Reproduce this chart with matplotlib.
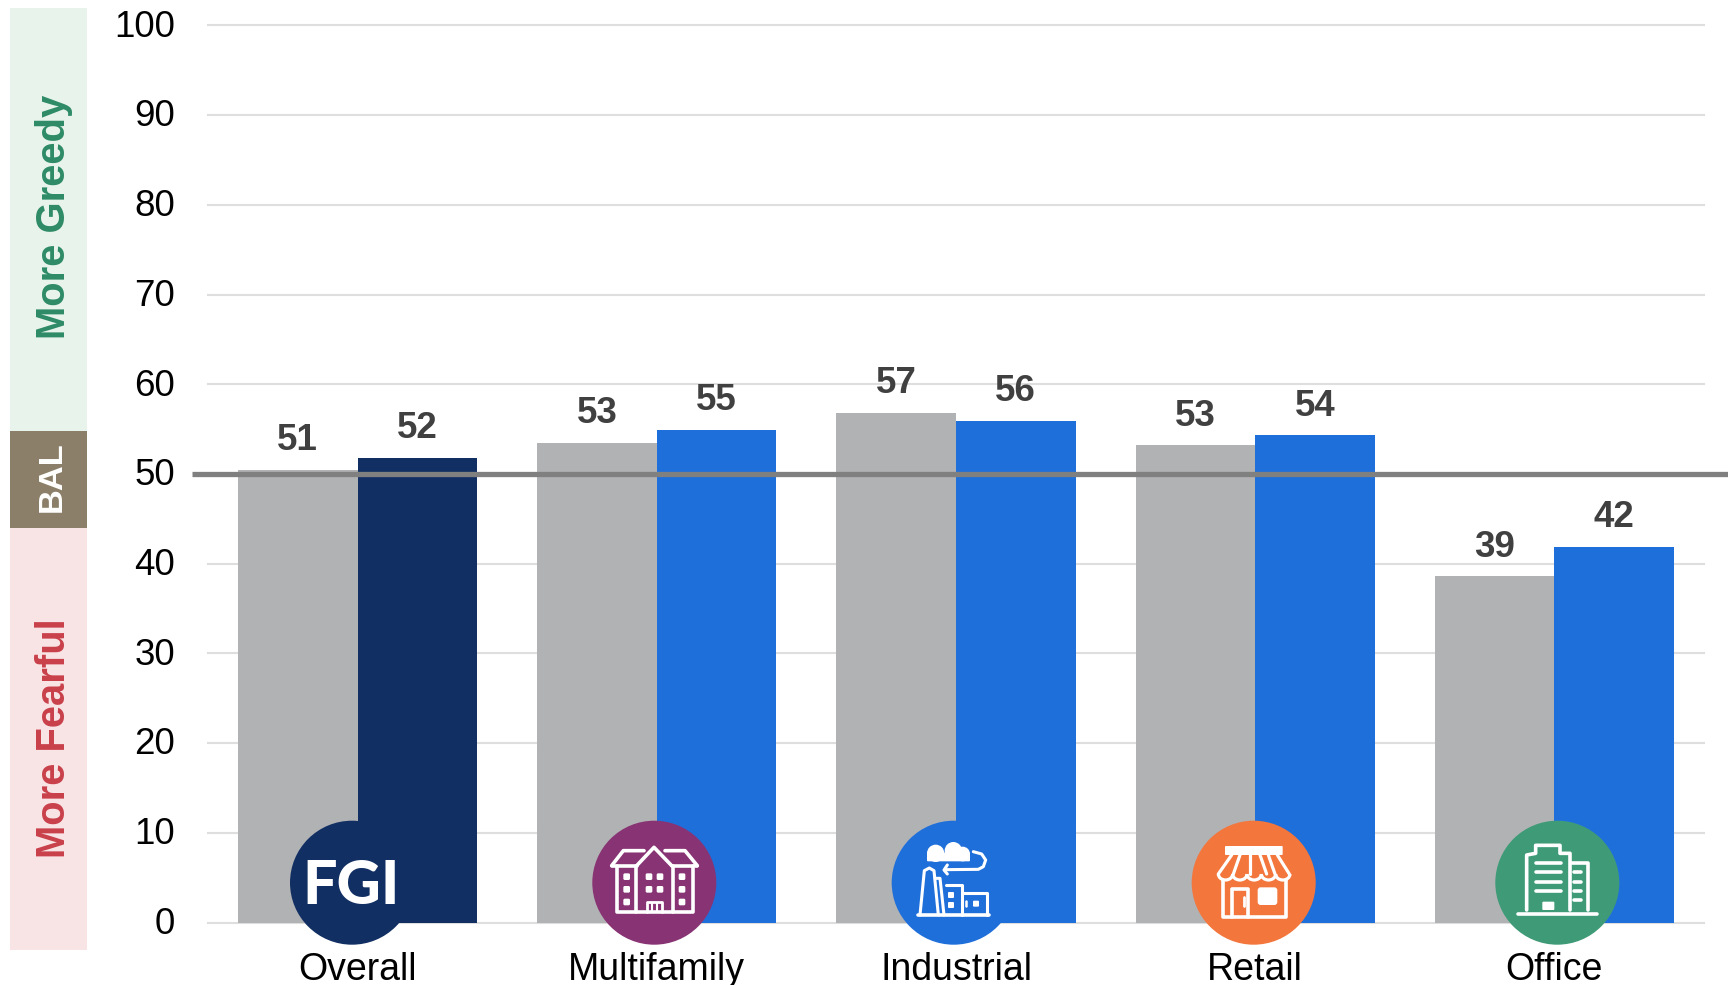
import matplotlib
matplotlib.use("Agg")
import matplotlib.pyplot as plt
from matplotlib.patches import Circle, Rectangle, FancyBboxPatch, Arc, Ellipse
from matplotlib.transforms import ScaledTranslation

plt.rcParams['font.family'] = ['Liberation Sans', 'DejaVu Sans']

categories = ["Overall", "Multifamily", "Industrial", "Retail", "Office"]
prior_values = [50.5, 53.5, 56.8, 53.2, 38.6]
current_values = [51.8, 54.9, 55.9, 54.3, 41.9]
prior_labels = ["51", "53", "57", "53", "39"]
current_labels = ["52", "55", "56", "54", "42"]
current_colors = ["#122F63", "#1F6FDB", "#1F6FDB", "#1F6FDB", "#1F6FDB"]
y_ticks = [0, 10, 20, 30, 40, 50, 60, 70, 80, 90, 100]
balance_level = 50

W, H = 1728, 985
fig = plt.figure(figsize=(W / 100, H / 100), dpi=100, facecolor="white")
ax = fig.add_axes([208 / W, 1 - 922.5 / H, 1496 / W, 897 / H])
ax.set_xlim(0, len(categories))
ax.set_ylim(0, 100)
for s in ax.spines.values():
    s.set_visible(False)
ax.set_yticks(y_ticks)
ax.tick_params(axis="y", length=0, pad=23.8, labelsize=26.5, labelcolor="black")
ax.set_xticks([i + 0.5 for i in range(len(categories))])
ax.set_xticklabels(categories)
ax.tick_params(axis="x", length=0, pad=21, labelsize=27, labelcolor="black")
ax.grid(axis="y", color="#DEDEDE", lw=1.5, zorder=1)
ax.grid(axis="x", visible=False)
ax.set_axisbelow(True)
for ytick in ax.yaxis.get_gridlines():
    ytick.set_clip_on(False)
nudge = ScaledTranslation(0, 2.2 / 100, fig.dpi_scale_trans)
for tick in ax.yaxis.get_major_ticks():
    tick.label1.set_transform(tick.label1.get_transform() + nudge)

bw = 0.4
for i, (p, c) in enumerate(zip(prior_values, current_values)):
    cx = i + 0.5
    ax.bar(cx - bw / 2, p, bw, color="#B1B2B4", zorder=2)
    ax.bar(cx + bw / 2, c, bw, color=current_colors[i], zorder=2)
    ax.annotate(prior_labels[i], (cx - bw / 2, p), xytext=(0, 14.2), textcoords="offset points",
                ha="center", va="baseline", fontsize=26.5, fontweight="bold", color="#404040")
    ax.annotate(current_labels[i], (cx + bw / 2, c), xytext=(0, 14.2), textcoords="offset points",
                ha="center", va="baseline", fontsize=26.5, fontweight="bold", color="#404040")

ax.plot([-16 / 1496, 1.02], [balance_level, balance_level], transform=ax.get_yaxis_transform(),
        color="#808080", lw=3.8, zorder=3, clip_on=False, solid_capstyle="butt")

# overlay in pixel coordinates: sentiment bands and category icons
ov = fig.add_axes([0, 0, 1, 1], zorder=5)
ov.set_xlim(0, W)
ov.set_ylim(H, 0)
ov.axis("off")
ov.patch.set_alpha(0)

ov.add_patch(Rectangle((10, 8), 77, 423, color="#E8F3EC", lw=0))
ov.add_patch(Rectangle((10, 431), 77, 97, color="#8B7F69", lw=0))
ov.add_patch(Rectangle((10, 528), 77, 422, color="#F8E4E5", lw=0))
ov.text(54, 217, "More Greedy", rotation=90, ha="center", va="center", fontsize=28.8,
        fontweight="bold", color="#2E8B66")
ov.text(52, 477, "BAL", rotation=90, ha="center", va="center", fontsize=24.8,
        fontweight="bold", color="white")
ov.text(54, 738, "More Fearful", rotation=90, ha="center", va="center", fontsize=28.8,
        fontweight="bold", color="#C8404A")

R = 62
CY = 882.7
for cx, col in zip([352, 654.3, 953.7, 1253.7, 1557.3],
                   ["#122F63", "#883373", "#1F6FDB", "#F3763C", "#3F9B77"]):
    ov.add_patch(Circle((cx, CY), R, color=col, lw=0))


def mapper(ox, oy):
    return lambda x, y: (ox + x / 3, oy + y / 3)


def poly(m, pts, lw=2.6):
    xs, ys = zip(*[m(*p) for p in pts])
    ov.plot(xs, ys, color="white", lw=lw, solid_capstyle="round", solid_joinstyle="round")


def box(m, x0, y0, x1, y1, r=1.5):
    a = m(x0, y0)
    b = m(x1, y1)
    ov.add_patch(FancyBboxPatch((a[0] + r, a[1] + r), b[0] - a[0] - 2 * r, b[1] - a[1] - 2 * r,
                                boxstyle=f"round,pad={r}", fc="white", ec="none"))


# Overall
ov.text(351, 881, "FGI", ha="center", va="center_baseline", fontsize=44, fontweight="black",
        color="white", family=["Lato", "Liberation Sans"])

# Multifamily
m = mapper(270, 800)
poly(m, [(1025, 197), (1060, 152), (1122, 152)])
poly(m, [(1100, 197), (1152, 142), (1205, 197)])
poly(m, [(1185, 152), (1245, 152), (1282, 197)])
poly(m, [(1025, 197), (1100, 197)])
poly(m, [(1205, 197), (1282, 197)])
poly(m, [(1040, 197), (1040, 335), (1268, 335), (1268, 197)])
poly(m, [(1098, 197), (1098, 335)])
poly(m, [(1208, 197), (1208, 335)])
for wx in [1070, 1137, 1170, 1236]:
    for wy in [230, 268, 306]:
        if wx in (1137, 1170) and wy == 306:
            continue
        box(m, wx - 10, wy - 10, wx + 10, wy + 10)
poly(m, [(1130, 335), (1130, 305), (1175, 305), (1175, 335)], 2)
poly(m, [(1146, 310), (1146, 335)], 1.5)
poly(m, [(1160, 310), (1160, 335)], 1.5)

# Industrial
m = mapper(870, 800)
for ex, ey, er in [(197, 160, 26), (250, 152, 26), (278, 162, 22)]:
    c = m(ex, ey)
    ov.add_patch(Ellipse(c, 2 * er / 3, 2 * er / 3, fc="white", ec="none"))
box(m, 171, 158, 300, 184, 1)
poly(m, [(310, 155), (335, 162), (347, 180), (340, 200), (325, 208), (225, 209)], 2.2)
poly(m, [(232, 195), (222, 210), (232, 222)], 2.2)
poly(m, [(150, 345), (163, 212), (178, 204), (192, 212), (205, 345)], 2.2)
poly(m, [(195, 235), (210, 235), (222, 345)], 2.2)
poly(m, [(228, 255), (275, 255), (275, 345)], 2.2)
poly(m, [(280, 280), (352, 280), (352, 345)], 2.2)
poly(m, [(145, 345), (357, 345)], 2.6)
box(m, 234, 276, 252, 294, 1)
box(m, 234, 306, 252, 324, 1)
box(m, 309, 302, 327, 320, 1)
poly(m, [(288, 304), (288, 318)], 1.8)

# Retail
m = mapper(870, 800)
box(m, 1065, 138, 1238, 165, 1)
for top, bot in [(1085, 1045), (1110, 1090), (1140, 1140), (1170, 1190), (1195, 1215), (1222, 1258)]:
    poly(m, [(top, 165), (bot, 222)], 2.3)
for ax0 in [1045, 1088, 1131, 1174, 1217]:
    c = m(ax0 + 21.5, 222)
    ov.add_patch(Arc(c, 43 / 3, 36 / 3, theta1=0, theta2=180, color="white", lw=2.3))
poly(m, [(1058, 240), (1058, 350), (1248, 350), (1248, 240)])
poly(m, [(1085, 350), (1085, 266), (1135, 266), (1135, 350)])
poly(m, [(1121, 292), (1121, 318)], 2)
box(m, 1163, 262, 1222, 315, 3)

# Office
m = mapper(1440, 800)
poly(m, [(235, 343), (470, 343)])
poly(m, [(260, 330), (260, 165), (287, 160), (287, 136), (360, 136), (360, 160), (390, 160), (390, 330)])
for ly in [188, 217, 245, 272]:
    poly(m, [(287, ly), (362, ly)])
box(m, 307, 305, 343, 330, 1)
poly(m, [(397, 188), (445, 188), (445, 330)])
for ly in [217, 245, 272, 300]:
    poly(m, [(402, ly), (424, ly)])

fig.savefig("out.png", dpi=100, facecolor="white")
